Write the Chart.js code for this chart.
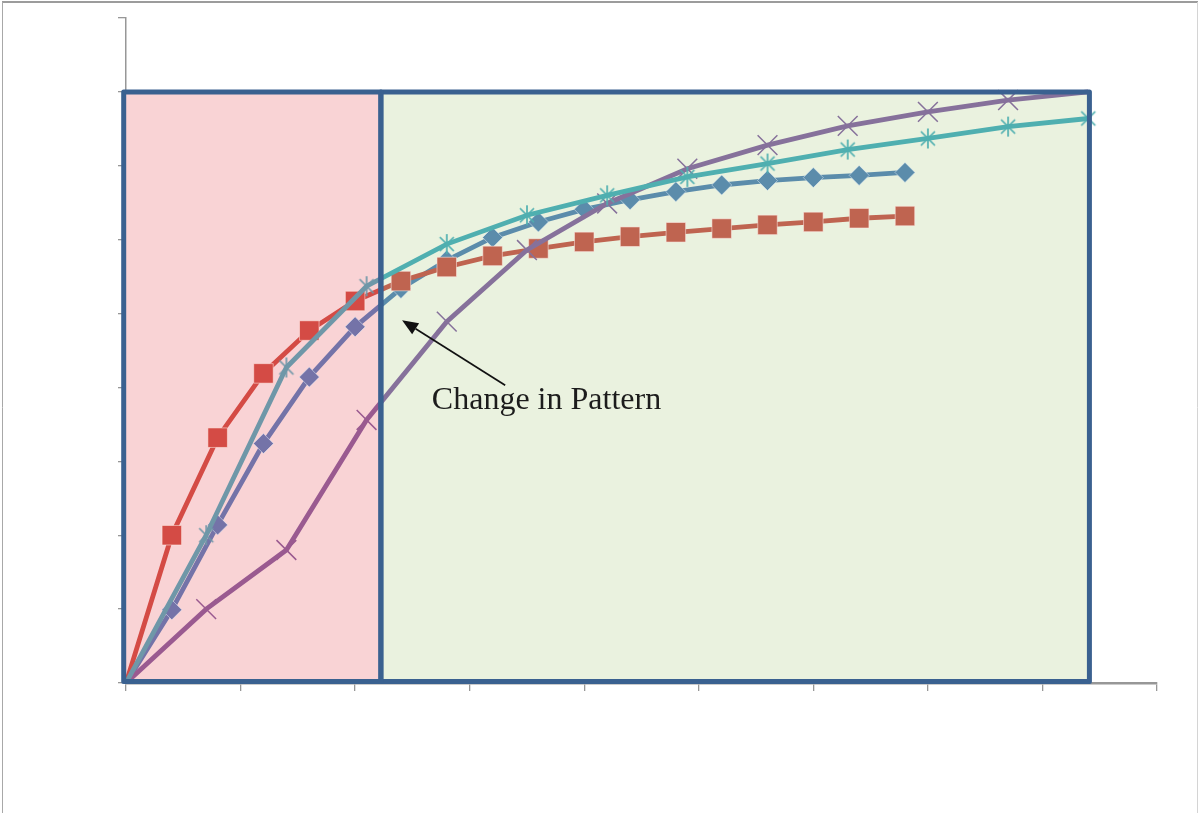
<!DOCTYPE html>
<html>
<head>
<meta charset="utf-8">
<script src="https://cdn.jsdelivr.net/npm/chart.js@4.4.1/dist/chart.umd.min.js"></script>
<style>
  html, body { margin: 0; padding: 0; background: #fff; }
  #wrap { position: relative; width: 1198px; height: 813px; }
</style>
</head>
<body>
<div id="wrap"><canvas id="pattern"></canvas></div>
<script>
// x positions of the two sampling grids
const xFine = [0, 0.4, 0.8, 1.2, 1.6, 2.0, 2.4, 2.8, 3.2, 3.6, 4.0, 4.4, 4.8, 5.2, 5.6, 6.0, 6.4, 6.8];
const xCoarse = [0, 0.7, 1.4, 2.1, 2.8, 3.5, 4.2, 4.9, 5.6, 6.3, 7.0, 7.7, 8.4];

// series values
const diamondValues = [0, 0.99, 2.14, 3.24, 4.14, 4.82, 5.34, 5.72, 6.03, 6.24, 6.41, 6.54, 6.65, 6.74, 6.80, 6.84, 6.87, 6.91];
const squareValues = [0, 2.00, 3.32, 4.19, 4.77, 5.17, 5.44, 5.63, 5.78, 5.88, 5.97, 6.04, 6.10, 6.15, 6.20, 6.24, 6.29, 6.32];
const crossValues = [0, 1.00, 1.80, 3.56, 4.89, 5.86, 6.49, 6.96, 7.28, 7.54, 7.73, 7.89, 8.00];
const starValues = [0, 2.00, 4.27, 5.37, 5.94, 6.33, 6.60, 6.85, 7.03, 7.22, 7.37, 7.53, 7.64];

// the two shaded zones and the note
const zoneEdges = [-0.02, 2.225, 8.41];
const zoneTop = 8;
const zoneBottom = 0.02;
const noteText = 'Change in Pattern';
const noteAt = [2.67, 3.71];
const arrowFrom = [3.31, 4.03];
const arrowTo = [2.41, 4.91];

const SPLIT = zoneEdges[1];

function pairs(xs, ys) {
  return xs.map((x, i) => ({ x, y: ys[i] }));
}

function splitStroke(chart, early, late) {
  const { ctx, chartArea, scales } = chart;
  if (!chartArea || !scales.x) return late;
  const px = scales.x.getPixelForValue(SPLIT);
  const w = chartArea.right - chartArea.left;
  const t = Math.min(1, Math.max(0, (px - chartArea.left) / w));
  const g = ctx.createLinearGradient(chartArea.left, 0, chartArea.right, 0);
  g.addColorStop(0, early);
  g.addColorStop(t, early);
  g.addColorStop(t, late);
  g.addColorStop(1, late);
  return g;
}

function byZone(early, late) {
  return (c) => (c.parsed && c.parsed.x < SPLIT ? early : late);
}

function markerSize(size, skipLast) {
  return (c) => {
    if (c.parsed && c.parsed.x === 0) return 0;
    if (skipLast && c.dataIndex === c.dataset.data.length - 1) return 0;
    return size;
  };
}

function makeAsterisk(color) {
  const cv = document.createElement('canvas');
  cv.width = 22;
  cv.height = 22;
  const g = cv.getContext('2d');
  g.strokeStyle = color;
  g.lineWidth = 1.7;
  g.beginPath();
  g.moveTo(11, 1); g.lineTo(11, 21);
  g.moveTo(4, 4); g.lineTo(18, 18);
  g.moveTo(18, 4); g.lineTo(4, 18);
  g.stroke();
  return cv;
}

const COLORS = {
  diamond: ['#7473a8', '#5b8cab'],
  square: ['#d44b45', '#bf6450'],
  cross: ['#9a5a90', '#86719b'],
  star: ['#6f97a8', '#4fafb0'],
};

const starMarks = [makeAsterisk(COLORS.star[0]), makeAsterisk(COLORS.star[1])];

function seriesBase(key) {
  const [early, late] = COLORS[key];
  return {
    borderColor: (c) => splitStroke(c.chart, early, late),
    borderWidth: 4.8,
    tension: 0,
    fill: false,
    pointRadius: markerSize(9.5, false),
    pointHoverRadius: 9.5,
    pointBackgroundColor: byZone(early, late),
    pointBorderColor: byZone(early, late),
    pointBorderWidth: 1,
  };
}

const zonePlugin = {
  id: 'zones',
  beforeDatasetsDraw(chart) {
    const { ctx, scales: { x, y } } = chart;
    const top = y.getPixelForValue(zoneTop);
    const bottom = y.getPixelForValue(zoneBottom);
    const [x0, x1, x2] = zoneEdges.map((v) => x.getPixelForValue(v));
    ctx.save();
    ctx.fillStyle = '#f9d3d5';
    ctx.fillRect(x0, top, x1 - x0, bottom - top);
    ctx.fillStyle = '#eaf2df';
    ctx.fillRect(x1, top, x2 - x1, bottom - top);
    ctx.restore();
  },
  afterDatasetsDraw(chart) {
    const { ctx, scales: { x, y } } = chart;
    const top = y.getPixelForValue(zoneTop);
    const bottom = y.getPixelForValue(zoneBottom);
    const [x0, x1, x2] = zoneEdges.map((v) => x.getPixelForValue(v));
    ctx.save();
    ctx.strokeStyle = '#3a6190';
    ctx.lineWidth = 5;
    ctx.lineJoin = 'round';
    ctx.strokeRect(x1, top, x2 - x1, bottom - top);
    ctx.strokeRect(x0, top, x1 - x0, bottom - top);
    ctx.restore();
  },
  afterDraw(chart) {
    const { ctx, scales: { x, y } } = chart;
    ctx.save();
    // note text
    ctx.font = '32px "Liberation Serif", "Times New Roman", serif';
    ctx.fillStyle = '#1c1c1c';
    ctx.textBaseline = 'alphabetic';
    ctx.fillText(noteText, x.getPixelForValue(noteAt[0]), y.getPixelForValue(noteAt[1]));

    // arrow
    const ax = x.getPixelForValue(arrowFrom[0]), ay = y.getPixelForValue(arrowFrom[1]);
    const bx = x.getPixelForValue(arrowTo[0]), by = y.getPixelForValue(arrowTo[1]);
    const ang = Math.atan2(by - ay, bx - ax);
    const head = 16, half = 6.5;
    const hx = bx - Math.cos(ang) * head, hy = by - Math.sin(ang) * head;
    ctx.strokeStyle = '#111';
    ctx.lineWidth = 1.7;
    ctx.beginPath();
    ctx.moveTo(ax, ay);
    ctx.lineTo(hx, hy);
    ctx.stroke();
    ctx.fillStyle = '#111';
    ctx.beginPath();
    ctx.moveTo(bx, by);
    ctx.lineTo(hx + Math.sin(ang) * half, hy - Math.cos(ang) * half);
    ctx.lineTo(hx - Math.sin(ang) * half, hy + Math.cos(ang) * half);
    ctx.closePath();
    ctx.fill();

    // outer frame
    ctx.lineWidth = 2;
    ctx.strokeStyle = '#9c9c9c';
    ctx.beginPath();
    ctx.moveTo(2, 2); ctx.lineTo(1198, 2);
    ctx.stroke();
    ctx.lineWidth = 1;
    ctx.strokeStyle = '#a8a8a8';
    ctx.beginPath();
    ctx.moveTo(2.5, 2); ctx.lineTo(2.5, 813);
    ctx.stroke();
    ctx.strokeStyle = '#d4d4d4';
    ctx.beginPath();
    ctx.moveTo(1197.5, 2); ctx.lineTo(1197.5, 813);
    ctx.stroke();
    ctx.restore();
  },
};

const axisGrey = '#979797';

new Chart(document.getElementById('pattern'), {
  type: 'line',
  plugins: [zonePlugin],
  data: {
    datasets: [
      {
        ...seriesBase('star'),
        data: pairs(xCoarse, starValues),
        pointStyle: (c) => (c.parsed && c.parsed.x < SPLIT ? starMarks[0] : starMarks[1]),
      },
      {
        ...seriesBase('cross'),
        data: pairs(xCoarse, crossValues),
        pointStyle: 'crossRot',
        pointRadius: markerSize(14, true),
        pointBorderWidth: 1.5,
      },
      {
        ...seriesBase('square'),
        data: pairs(xFine, squareValues),
        pointStyle: 'rect',
        pointRadius: markerSize(13.8, false),
        pointBorderColor: 'rgba(255,235,230,0.55)',
      },
      {
        ...seriesBase('diamond'),
        data: pairs(xFine, diamondValues),
        pointStyle: 'rectRot',
        pointRadius: markerSize(10, false),
        pointBorderColor: 'rgba(230,240,250,0.5)',
      },
    ],
  },
  options: {
    responsive: true,
    maintainAspectRatio: false,
    animation: false,
    layout: { padding: { left: 118, top: 18, right: 41, bottom: 122 } },
    plugins: {
      legend: { display: false },
      tooltip: { enabled: false },
    },
    scales: {
      x: {
        type: 'linear',
        min: 0,
        max: 9,
        ticks: { stepSize: 1, display: false },
        grid: { drawOnChartArea: false, drawTicks: true, tickLength: 8, color: axisGrey, lineWidth: 1.3 },
        border: { color: axisGrey, width: 2.5 },
      },
      y: {
        type: 'linear',
        min: 0,
        max: 9,
        ticks: { stepSize: 1, display: false },
        grid: { drawOnChartArea: false, drawTicks: true, tickLength: 8, color: axisGrey, lineWidth: 1.3 },
        border: { color: axisGrey, width: 1.5 },
      },
    },
  },
});
</script>
</body>
</html>
